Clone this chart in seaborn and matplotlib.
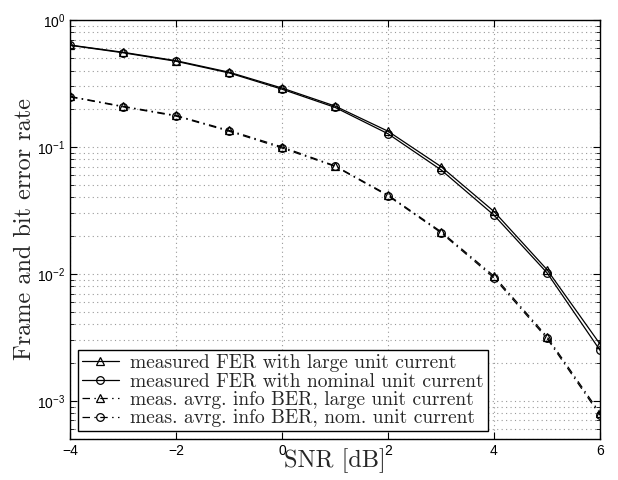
import numpy as np
import pandas as pd
import matplotlib
matplotlib.use("Agg")
import matplotlib.pyplot as plt
import seaborn as sns
from matplotlib.ticker import LogLocator, LogFormatterSciNotation, FixedLocator

snr = [-4, -3, -2, -1, 0, 1, 2, 3, 4, 5, 6]
fer_large = [0.635, 0.557, 0.478, 0.388, 0.291, 0.210, 0.133, 0.070, 0.031, 0.0108, 0.0028]
fer_nominal = [0.632, 0.552, 0.473, 0.383, 0.285, 0.205, 0.127, 0.066, 0.029, 0.0102, 0.0025]
ber_large = [0.250, 0.209, 0.177, 0.135, 0.100, 0.0710, 0.0418, 0.0215, 0.0096, 0.0032, 0.00080]
ber_nominal = [0.248, 0.207, 0.175, 0.133, 0.098, 0.0703, 0.0412, 0.0211, 0.0093, 0.0031, 0.00077]
labels = ["measured FER with large unit current",
          "measured FER with nominal unit current",
          "meas. avrg. info BER, large unit current",
          "meas. avrg. info BER, nom. unit current"]
xticks = [-4, -2, 0, 2, 4, 6]

sns.set_style("ticks")
plt.rcParams["mathtext.fontset"] = "custom"
plt.rcParams["mathtext.rm"] = "Liberation Sans"
plt.rcParams["mathtext.it"] = "Liberation Sans:italic"
plt.rcParams["font.family"] = ["Liberation Sans", "DejaVu Sans"]

fig = plt.figure(figsize=(6.18, 4.8), dpi=100)
ax = fig.add_axes([70/618, 1-439/480, 530/618, 419/480])

series = [fer_large, fer_nominal, ber_large, ber_nominal]
markers = ["^", "o", "^", "o"]
styles = ["-", "-", (0, (6, 3.5, 1.2, 3.5)), (0, (6, 3.5, 1.2, 3.5))]
for vals, m, ls, lab in zip(series, markers, styles, labels):
    df = pd.DataFrame({"snr": snr, "val": vals})
    sns.lineplot(data=df, x="snr", y="val", ax=ax, color="k", marker=m,
                 linestyle=ls, linewidth=0.9, markersize=5.5,
                 markerfacecolor="none", markeredgecolor="k",
                 markeredgewidth=0.9, label=lab)

ax.set_yscale("log")
ax.set_xlim(-4, 6)
ax.set_ylim(5e-4, 1)
ax.xaxis.set_major_locator(FixedLocator(xticks))
ax.yaxis.set_major_locator(LogLocator(base=10, numticks=10))
ax.yaxis.set_minor_locator(LogLocator(base=10, subs=np.arange(2, 10), numticks=20))
ax.yaxis.set_major_formatter(LogFormatterSciNotation())
ax.tick_params(which="both", direction="in", top=True, right=True,
               labelsize=10, colors="k")
ax.tick_params(which="major", length=5, width=0.8)
ax.tick_params(which="minor", length=3, width=0.6)
ax.set_xticklabels(["\u22124", "\u22122", "0", "2", "4", "6"])

ax.grid(True, which="major", axis="both", linestyle=(0, (1, 3)), color="#999999", linewidth=0.8)
ax.grid(True, which="minor", axis="y", linestyle=(0, (1, 3)), color="#999999", linewidth=0.8)
for s in ax.spines.values():
    s.set_color("k")
    s.set_linewidth(1.0)

ax.set_xlabel("SNR [dB]", family="cmr10", fontsize=17.5, labelpad=-7)
ax.set_ylabel("Frame and bit error rate", family="cmr10", fontsize=17.5, labelpad=1)

leg = ax.legend(loc="lower left", prop={"family": "cmr10", "size": 14},
                frameon=True, fancybox=False, framealpha=1, edgecolor="k",
                borderaxespad=0.4, handlelength=1.9, handletextpad=0.6,
                borderpad=0.2, labelspacing=0.02)
leg.get_frame().set_linewidth(1.0)

fig.savefig("out.png", dpi=100)
